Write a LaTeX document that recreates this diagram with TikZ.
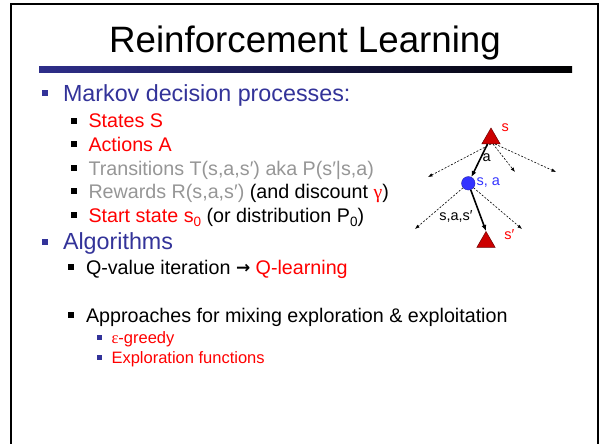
\documentclass[tikz,border=0pt]{standalone}
\usepackage{fontspec}
\setmainfont{Liberation Sans}
\newfontfamily\greekfont{Liberation Serif}
\newfontfamily\arrowfont{DejaVu Sans}[BoldFont={DejaVu Sans Bold}]
\usetikzlibrary{arrows.meta,shapes.geometric}

\definecolor{slideblue}{RGB}{51,51,153}
\definecolor{hotred}{RGB}{255,0,0}
\definecolor{softgray}{RGB}{150,150,150}
\definecolor{trired}{RGB}{204,0,0}
\definecolor{triedge}{RGB}{110,0,0}
\definecolor{qblue}{RGB}{51,51,255}

% lowered index, as in s_0 and P_0
\newcommand\lowidx[1]{\raisebox{-4.5pt}{\fontsize{13.5}{14}\selectfont #1}}

\begin{document}
\begin{tikzpicture}[x=1pt,y=-1pt,
  txt/.style={anchor=base west, inner sep=0pt, outer sep=0pt},
  lvlone/.style={txt, font=\fontsize{23.3}{28}\selectfont, text=slideblue},
  lvltwo/.style={txt, font=\fontsize{19.7}{24}\selectfont},
  lvlthree/.style={txt, font=\fontsize{16.5}{20}\selectfont, text=hotred},
  dotone/.style={slideblue},
  dottwo/.style={black},
  dotthree/.style={slideblue},
  statetri/.style={regular polygon, regular polygon sides=3, minimum size=21pt,
    inner sep=0pt, fill=trired, draw=triedge, line width=0.5pt},
  qnode/.style={circle, minimum size=13.5pt, inner sep=0pt, fill=qblue,
    draw=qblue!70!black, line width=0.4pt},
  mainarrow/.style={line width=1.6pt, -{Latex[length=6pt,width=5pt]}},
  sidearrow/.style={line width=0.6pt, dash pattern=on 2pt off 1.6pt,
    -{Latex[length=4.5pt,width=3.5pt]}},
  treelbl/.style={txt, font=\fontsize{14.5}{16}\selectfont}
]
\useasboundingbox (0,0) rectangle (600,444);

% slide frame (open at the bottom)
\draw[line width=2pt] (11,444) -- (11,4) -- (598,4) -- (598,444);

% title and its rule
\node[anchor=base, inner sep=0pt, font=\fontsize{36.7}{40}\selectfont] (title) at (305,53) {Reinforcement Learning};
\shade[left color=slideblue!90!black, right color=black] (39,67) rectangle (572,72.5);

% square bullets, snapped to whole units
\fill[dotone] (42,90) rectangle (48,96);
\fill[dotone] (42,239) rectangle (48,245);
\foreach \yy in {118,141,165,188,212}
  \fill[dottwo] (71,\yy) rectangle ++(6,6);
\foreach \yy in {264,312}
  \fill[dottwo] (68,\yy) rectangle ++(6,6);
\foreach \yy in {335,355}
  \fill[dotthree] (97,\yy) rectangle ++(5,5);

% first-level items
\node[lvlone] (mdp) at (63,101) {Markov decision processes:};
\node[lvlone] (algs) at (63,249) {Algorithms};

% MDP components
\node[lvltwo, text=hotred] (states) at (88.5,128) {States S};
\node[lvltwo, text=hotred] (actions) at (88.5,151) {Actions A};
\node[lvltwo, text=softgray] (trans) at (88.5,175) {Transitions T(s,a,s′) aka P(s′|s,a)};
\node[lvltwo] (rew) at (88.5,198) {\textcolor{softgray}{Rewards R(s,a,s′)} (and discount \textcolor{hotred}{\greekfont γ})};
\node[lvltwo] (start) at (88.5,222) {\textcolor{hotred}{Start state s\lowidx{0}} (or distribution P\lowidx{0})};

% algorithms
\node[lvltwo] (qval) at (86,274) {Q-value iteration {\arrowfont\bfseries\fontsize{17}{20}\selectfont\raisebox{0.5pt}{→}} \textcolor{hotred}{Q-learning}};
\node[lvltwo] (mix) at (86,322) {Approaches for mixing exploration \& exploitation};
\node[lvlthree] (egreedy) at (111.5,343) {{\greekfont ε}-greedy};
\node[lvlthree] (expf) at (111.5,363) {Exploration functions};

% expectimax fragment: state, q-state, next state
\node[statetri] (root) at (491,138.5) {};
\node[qnode] (qsa) at (468.3,183.3) {};
\node[statetri] (next) at (486,242) {};

\coordinate (ra) at (428,177);
\coordinate (rb) at (515,172);
\coordinate (rc) at (556,172);
\coordinate (qa) at (415,229);
\coordinate (qb) at (522,229);

\draw[sidearrow] (root.south) -- (ra);
\draw[sidearrow] ([xshift=2pt]root.south) -- (rb);
\draw[sidearrow] ([xshift=4pt]root.south) -- (rc);
\draw[mainarrow] ([xshift=-3.5pt]root.south) -- (qsa);
\draw[sidearrow] (qsa) -- (qa);
\draw[sidearrow] (qsa) -- (qb);
\draw[mainarrow] (qsa) -- (next.north);

\node[treelbl, text=hotred] (slbl) at (501.7,131.7) {s};
\node[treelbl] (albl) at (482.5,161.7) {a};
\node[treelbl, text=qblue] (salbl) at (476.5,185.7) {s, a};
\node[treelbl] (saslbl) at (439.3,220.7) {s,a,s′};
\node[treelbl, text=hotred] (splbl) at (504.3,239) {s′};
\end{tikzpicture}
\end{document}
